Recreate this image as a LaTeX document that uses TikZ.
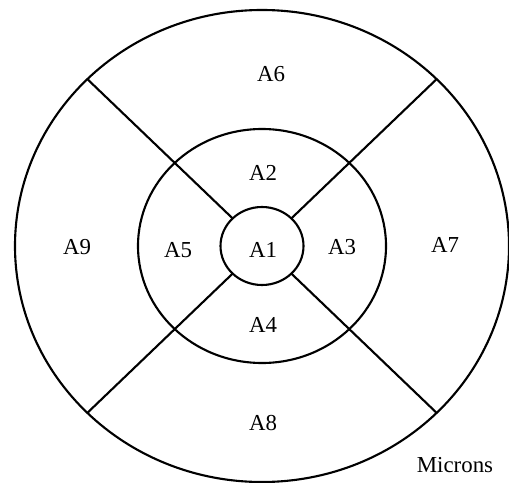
\documentclass[tikz,border=0pt]{standalone}
\usepackage{fontspec}
\setmainfont{Liberation Serif}
\usetikzlibrary{positioning}

\begin{document}
\begin{tikzpicture}[x=0.03cm, y=-0.03cm, line width=1.8pt,
  zone/.style={font=\fontsize{19.5}{21}\selectfont}]
  \useasboundingbox (0,0) rectangle (509,483);
  \coordinate (c) at (262,246);
  % the three rings
  \draw (c) ellipse [x radius=247, y radius=236];
  \draw (c) ellipse [x radius=124, y radius=117];
  \draw (c) ellipse [x radius=41.5, y radius=39];
  % spokes between inner and outer ring
  \foreach \a in {45,135,225,315}
    \draw ([shift={(c)}]\a:41.5 and 39) -- ([shift={(c)}]\a:247 and 236);
  % zone labels
  \node[zone] (a1) at (263,250) {A1};
  \node[zone] (a2) at (263,173) {A2};
  \node[zone] (a3) at (342,247) {A3};
  \node[zone] (a4) at (263,325) {A4};
  \node[zone] (a5) at (178,250) {A5};
  \node[zone] (a6) at (271,74) {A6};
  \node[zone] (a7) at (445,245) {A7};
  \node[zone] (a8) at (263,423) {A8};
  \node[zone] (a9) at (77,247) {A9};
  \node[zone] (microns) at (455,465) {Microns};
\end{tikzpicture}
\end{document}
